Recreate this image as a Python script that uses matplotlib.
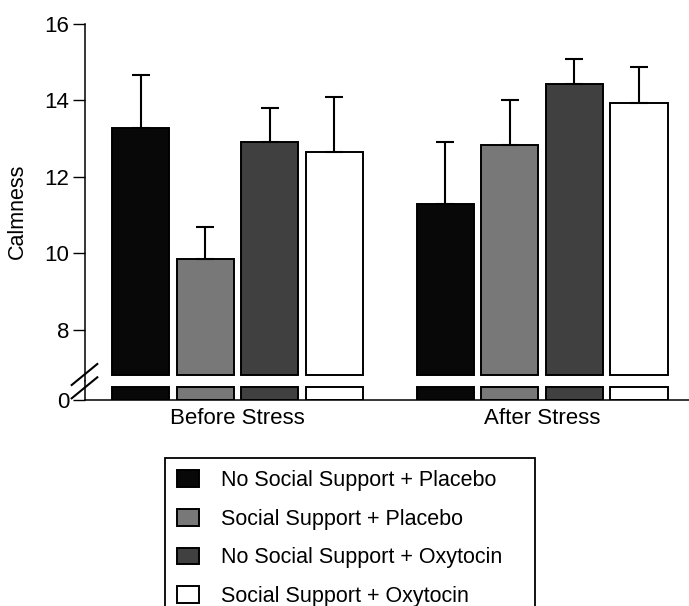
import matplotlib.pyplot as plt
import numpy as np
from matplotlib.lines import Line2D

plt.rcParams['font.family'] = ['Liberation Sans', 'DejaVu Sans']

# Group means and upper SEM for each condition
groups = ['Before Stress', 'After Stress']
conditions = ['No Social Support + Placebo', 'Social Support + Placebo',
              'No Social Support + Oxytocin', 'Social Support + Oxytocin']
fills = ['#080808', '#787878', '#404040', '#ffffff']
before = [13.27, 9.85, 12.91, 12.65]
after = [11.29, 12.83, 14.42, 13.94]
before_err = [1.39, 0.83, 0.88, 1.45]
after_err = [1.63, 1.18, 0.66, 0.93]

# axis break: lower panel shows 0..break_lo, upper panel starts at break_hi
break_lo, break_hi = 0.35, 6.8
group_gap = 4.725
width = 0.884

fig = plt.figure(figsize=(6.89, 6.06), dpi=100)
ax_top = fig.add_axes([0.1234, 0.3713, 0.8766, 0.5891])
ax_bot = fig.add_axes([0.1234, 0.3399, 0.8766, 0.0314])

for i, cond in enumerate(conditions):
    xs = np.array([i, i + group_gap])
    vals = np.array([before[i], after[i]])
    errs = np.array([before_err[i], after_err[i]])
    ax_top.bar(xs, vals - break_hi, bottom=break_hi, width=width,
               color=fills[i], edgecolor='black', linewidth=1.4, label=cond)
    ax_top.errorbar(xs, vals, yerr=[np.zeros(2), errs], fmt='none',
                    ecolor='black', elinewidth=1.5, capsize=6.5, capthick=1.5)
    ax_bot.bar(xs, np.minimum(vals, break_lo), width=width,
               color=fills[i], edgecolor='black', linewidth=1.4)

for ax in (ax_top, ax_bot):
    ax.set_xlim(-0.86, 8.5)
    ax.spines['top'].set_visible(False)
    ax.spines['right'].set_visible(False)
    ax.spines['left'].set_linewidth(1.1)
    ax.tick_params(axis='y', length=8.6, width=1.0, labelsize=16, pad=2.5)

ax_top.set_ylim(6.654, 16)
ax_top.set_yticks([8, 10, 12, 14, 16])
ax_top.spines['bottom'].set_visible(False)
ax_top.set_xticks([])
ax_top.set_ylabel('Calmness', fontsize=15.5)
ax_top.yaxis.set_label_coords(-0.095, 0.476)

ax_bot.set_ylim(0, 0.497)
ax_bot.set_yticks([0])
ax_bot.spines['bottom'].set_linewidth(1.1)
ax_bot.set_xticks([1.5, 1.5 + group_gap])
ax_bot.set_xticklabels(groups, fontsize=16)
ax_bot.tick_params(axis='x', length=0, pad=6)

# break marks across the y axis
W, H = 689.0, 606.0
for y0, y1 in [(385, 364), (398.3, 377.3)]:
    fig.add_artist(Line2D([71.7 / W, 97.3 / W], [1 - y0 / H, 1 - y1 / H],
                          color='black', linewidth=1.5))

leg = fig.legend(*ax_top.get_legend_handles_labels(), loc='upper left',
                 bbox_to_anchor=(165 / W, 1 - 458.3 / H, 370 / W, 0),
                 mode='expand', borderaxespad=0, fontsize=15.5,
                 handlelength=1.05, handleheight=0.8, handletextpad=1.0,
                 labelspacing=0.82, borderpad=0.55, fancybox=False,
                 edgecolor='black', framealpha=1)
leg.get_frame().set_linewidth(1.3)

fig.savefig('out.png', dpi=100)
